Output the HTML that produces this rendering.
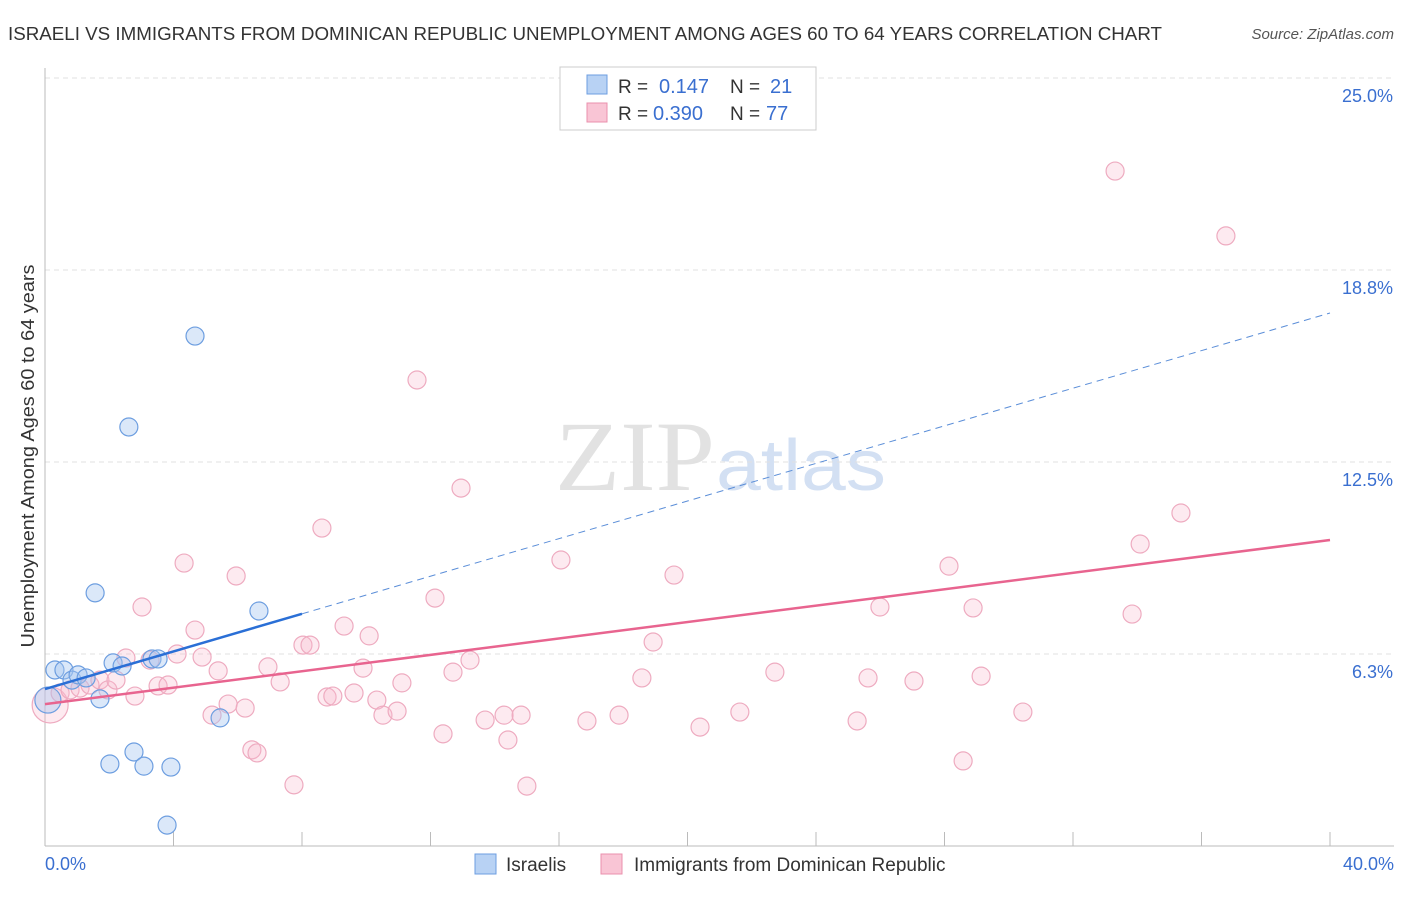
<!DOCTYPE html>
<html><head><meta charset="utf-8"><style>
body{margin:0;background:#fff;font-family:"Liberation Sans",sans-serif;}
svg text{font-family:"Liberation Sans",sans-serif;}
</style></head><body>
<svg id="chart" width="1406" height="892" xmlns="http://www.w3.org/2000/svg">
<text x="8" y="40" font-size="18.5" fill="#333" textLength="1154" lengthAdjust="spacingAndGlyphs">ISRAELI VS IMMIGRANTS FROM DOMINICAN REPUBLIC UNEMPLOYMENT AMONG AGES 60 TO 64 YEARS CORRELATION CHART</text>
<text x="1394" y="39" font-size="15" fill="#555" font-style="italic" text-anchor="end">Source: ZipAtlas.com</text>
<text x="555" y="490" font-size="100" fill="#e2e2e2" textLength="160" lengthAdjust="spacingAndGlyphs" style="font-family:'Liberation Serif',serif">ZIP</text>
<text x="716" y="490" font-size="72" fill="#d3e0f3" textLength="170" lengthAdjust="spacingAndGlyphs">atlas</text>
<g id="grid"></g><g id="axes"></g><g id="marks"></g>
<text transform="translate(34,456) rotate(-90)" font-size="18" fill="#333" text-anchor="middle" textLength="383" lengthAdjust="spacingAndGlyphs">Unemployment Among Ages 60 to 64 years</text>
<g>
<rect x="560" y="67" width="256" height="63" fill="#fff" stroke="#ccc"/>
<rect x="587" y="75" width="20" height="19" fill="#b8d2f4" stroke="#6d9ee0"/>
<rect x="587" y="103" width="20" height="19" fill="#f9c5d5" stroke="#ea90ad"/>
<text x="618" y="93" font-size="19" fill="#333">R = </text><text x="659" y="93" font-size="20" fill="#3a6fd0">0.147</text>
<text x="730" y="93" font-size="19" fill="#333">N = </text><text x="770" y="93" font-size="20" fill="#3a6fd0">21</text>
<text x="618" y="120" font-size="19" fill="#333">R = </text><text x="653" y="120" font-size="20" fill="#3a6fd0">0.390</text>
<text x="730" y="120" font-size="19" fill="#333">N = </text><text x="766" y="120" font-size="20" fill="#3a6fd0">77</text>
</g>
<g>
<rect x="475" y="854" width="21" height="20" fill="#b8d2f4" stroke="#6d9ee0"/>
<text x="506" y="871" font-size="19" fill="#333">Israelis</text>
<rect x="601" y="854" width="21" height="20" fill="#f9c5d5" stroke="#ea90ad"/>
<text x="634" y="871" font-size="19" fill="#333">Immigrants from Dominican Republic</text>
</g>
</svg>
<script>
const yTicks=[6.3,12.5,18.8,25.0];
const yTickVals=[6.25,12.5,18.75,25];
const xTickLabels=["0.0%","40.0%"];
const blueX=[0.31,0.59,0.84,1.03,1.28,1.71,2.12,2.40,3.33,3.52,1.56,2.61,4.67,6.66,5.45,2.02,2.77,3.08,3.92,3.80,0.09];
const blueY=[5.73,5.73,5.40,5.57,5.47,4.79,5.96,5.86,6.09,6.09,8.24,13.64,16.60,7.65,4.17,2.67,3.06,2.60,2.57,0.68,4.75];
const pinkX=[0.16,0.47,0.78,1.09,1.40,1.71,1.96,2.21,2.52,2.80,3.02,3.27,3.52,3.83,4.11,4.33,4.67,4.89,5.20,5.39,5.70,5.95,6.23,6.44,6.60,6.94,7.32,7.75,8.03,8.25,8.62,8.78,8.96,9.31,9.62,9.90,10.09,10.33,10.52,10.96,11.11,11.58,12.14,12.39,12.70,12.95,13.23,13.70,14.29,14.41,14.82,15.00,16.06,16.87,17.87,18.58,18.93,19.58,20.39,21.63,22.72,25.28,25.62,25.99,27.05,28.14,28.58,28.89,29.14,30.44,33.31,33.84,34.09,35.36,36.76];
const pinkY=[4.59,4.98,5.08,5.14,5.24,5.40,5.08,5.40,6.12,4.88,7.78,6.05,5.21,5.24,6.25,9.21,7.03,6.15,4.26,5.70,4.62,8.79,4.49,3.13,3.03,5.83,5.34,1.99,6.54,6.54,10.35,4.85,4.88,7.16,4.98,5.79,6.84,4.75,4.26,4.39,5.31,15.17,8.07,3.65,5.66,11.65,6.05,4.10,4.26,3.45,4.26,1.95,9.31,4.07,4.26,5.47,6.64,8.82,3.87,4.36,5.66,4.07,5.47,7.78,5.37,9.11,2.77,7.75,5.53,4.36,21.97,7.55,9.83,10.84,19.86];
const blueTrend=[5.11,17.35]; const blueSolidEnd=8;
const pinkTrend=[4.62,9.96];
const NS="http://www.w3.org/2000/svg";
const sx=v=>45+v*32.125, sy=v=>846-v*30.72;
function mk(tag,attrs,parent){const e=document.createElementNS(NS,tag);for(const k in attrs)e.setAttribute(k,attrs[k]);document.getElementById(parent).appendChild(e);return e;}
yTickVals.forEach((v,i)=>{
 const l=mk('line',{x1:45,x2:1394,y1:sy(v),y2:sy(v),stroke:'#e0e0e0','stroke-dasharray':'5,4'},'grid');
 
 
 const t=mk('text',{x:1393,y:sy(v)+24,'font-size':18,fill:'#3a6fd0','text-anchor':'end'},'grid');
 t.textContent=yTicks[i].toFixed(1)+'%';
 
 
});
mk('line',{x1:45,x2:45,y1:68,y2:846,stroke:'#bbb'},'axes');
mk('line',{x1:45,x2:1394,y1:846,y2:846,stroke:'#bbb'},'axes');
for(let i=0;i<=10;i++){const t=mk('line',{x1:sx(i*4),x2:sx(i*4),y1:832,y2:846,stroke:'#bbb'},'axes');}
[[0,'start',45],[40,'end',1394]].forEach((d,i)=>{const t=mk('text',{x:d[2],y:870,'font-size':18,fill:'#3a6fd0','text-anchor':d[1]},'axes');t.textContent=xTickLabels[i];});
pinkX.forEach((x,i)=>{const c=mk('circle',{cx:sx(x),cy:sy(pinkY[i]),r:i==0?18:9,fill:'rgba(248,185,205,0.3)',stroke:'#eeabc0','stroke-width':1.2},'marks');});
blueX.forEach((x,i)=>{const c=mk('circle',{cx:sx(x),cy:sy(blueY[i]),r:i==20?13:9,fill:'rgba(165,198,240,0.4)',stroke:'#6d9ee0','stroke-width':1.2},'marks');});
const bAt=x=>blueTrend[0]+(blueTrend[1]-blueTrend[0])*x/40;
let l=mk('line',{x1:sx(0),y1:sy(pinkTrend[0]),x2:sx(40),y2:sy(pinkTrend[1]),stroke:'#e8648f','stroke-width':2.5},'marks');


l=mk('line',{x1:sx(0),y1:sy(bAt(0)),x2:sx(blueSolidEnd),y2:sy(bAt(blueSolidEnd)),stroke:'#2a6fd6','stroke-width':2.5},'marks');


l=mk('line',{x1:sx(blueSolidEnd),y1:sy(bAt(blueSolidEnd)),x2:sx(40),y2:sy(bAt(40)),stroke:'#5b8ed8','stroke-width':1,'stroke-dasharray':'7,5'},'marks');


</script>
</body></html>
